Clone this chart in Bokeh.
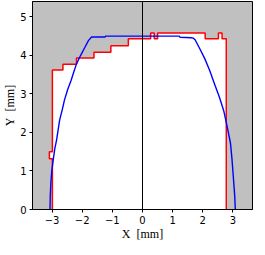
from bokeh.plotting import figure
from bokeh.models import Span, FixedTicker
from bokeh.embed import file_html
from bokeh.resources import INLINE

# Red measured outline (vertices of step profile), mm
red_x = [-2.99, -2.99, -3.09, -3.09, -2.99, -2.99, -2.64, -2.64, -2.19, -2.19,
         -1.61, -1.61, -1.05, -1.05, -0.47, -0.47, 0.27, 0.27, 0.39, 0.39,
         0.50, 0.50, 2.08, 2.08, 2.52, 2.52, 2.64, 2.64, 2.78, 2.78]
red_y = [0.00, 1.32, 1.32, 1.50, 1.50, 3.62, 3.62, 3.77, 3.77, 3.93,
         3.93, 4.08, 4.08, 4.25, 4.25, 4.43, 4.43, 4.58, 4.58, 4.43,
         4.43, 4.58, 4.58, 4.43, 4.43, 4.58, 4.58, 4.43, 4.43, 0.00]

# Blue reference profile, mm
blue_x = [-3.07, -3.06, -3.04, -3.01, -2.96, -2.91, -2.85, -2.75, -2.66, -2.59,
          -2.48, -2.37, -2.28, -2.19, -2.06, -1.92, -1.79, -1.69, -1.24, -1.23,
          1.22, 1.25, 1.62, 1.68, 1.75, 1.91, 2.07, 2.23, 2.39, 2.55,
          2.70, 2.81, 2.92, 2.97, 3.02, 3.06, 3.08]
blue_y = [0.00, 0.36, 0.70, 1.00, 1.30, 1.58, 1.81, 2.32, 2.60, 2.84,
          3.12, 3.35, 3.57, 3.78, 3.99, 4.20, 4.39, 4.48, 4.48, 4.50,
          4.50, 4.47, 4.46, 4.45, 4.40, 4.16, 3.91, 3.61, 3.26, 2.92,
          2.55, 2.15, 1.72, 1.30, 0.78, 0.36, 0.00]

x_ticks = [-3, -2, -1, 0, 1, 2, 3]
x_tick_labels = ["\u22123", "\u22122", "\u22121", "0", "1", "2", "3"]
y_ticks = [0, 1, 2, 3, 4, 5]

p = figure(frame_width=220, frame_height=208, x_range=(-3.65, 3.65), y_range=(0, 5.4),
           output_backend="svg", toolbar_location=None,
           min_border_left=0, min_border_right=1, min_border_top=1, min_border_bottom=0)

p.background_fill_color = "#C0C0C0"
p.border_fill_color = "white"
p.outline_line_color = "black"
p.outline_line_width = 1
p.grid.visible = False

p.patch(red_x, red_y, fill_color="white", line_color=None)
p.line(red_x, red_y, line_color="#FF0000", line_width=1.5)
p.add_layout(Span(location=0, dimension="height", line_color="black", line_width=1))
p.line(blue_x, blue_y, line_color="#0000FF", line_width=1.4)

for ax in (p.xaxis[0], p.yaxis[0]):
    ax.axis_line_color = "black"
    ax.major_tick_line_color = "black"
    ax.minor_tick_line_color = None
    ax.major_tick_in = 0
    ax.major_tick_out = 3
    ax.major_label_text_font = "DejaVu Sans"
    ax.major_label_text_font_size = "10px"
    ax.major_label_text_color = "black"
    ax.axis_label_text_font = "Liberation Serif"
    ax.axis_label_text_font_size = "12px"
    ax.axis_label_text_font_style = "normal"
    ax.axis_label_text_color = "black"

p.xaxis.ticker = FixedTicker(ticks=x_ticks)
p.xaxis.major_label_overrides = {t: l for t, l in zip(x_ticks, x_tick_labels)}
p.yaxis.ticker = FixedTicker(ticks=y_ticks)
p.xaxis.axis_label = "X\u00a0\u00a0[mm]"
p.yaxis.axis_label = "Y\u00a0\u00a0[mm]"
p.xaxis.major_label_standoff = 3
p.xaxis.axis_label_standoff = 0
p.yaxis.major_label_standoff = 3
p.yaxis.axis_label_standoff = 0

open("out.html", "w").write(file_html(p, INLINE))
